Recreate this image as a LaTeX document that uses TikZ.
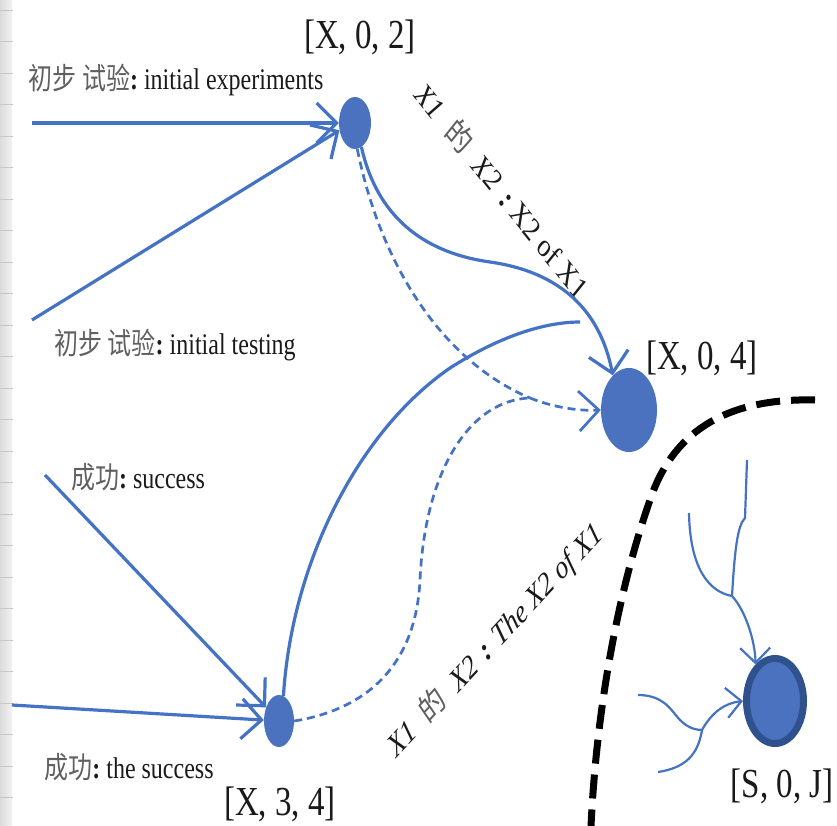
\documentclass[tikz,border=0pt]{standalone}
\usepackage{fontspec}
\setmainfont{Liberation Serif}
\newfontfamily\cjk{Noto Sans CJK SC}
\usepackage{graphicx}
\usetikzlibrary{arrows.meta,shapes.geometric}
\definecolor{nodeblue}{HTML}{4A72BE}
\definecolor{lineblue}{HTML}{4472C4}
\definecolor{ringblue}{HTML}{2F528F}
\definecolor{zhgray}{HTML}{606060}
\definecolor{txt}{HTML}{1A1A1A}
\newcommand\vs[1]{\scalebox{1}[1.25]{#1}}
\newcommand\zh[1]{{\cjk\color{zhgray}#1}}
\newcommand\cn{\textbf{:}}
\tikzset{
  dot/.style={ellipse, fill=nodeblue, draw=none, inner sep=0pt},
  conn/.style={draw=lineblue, line width=3.2pt},
  dashconn/.style={draw=lineblue, line width=2.7pt, dash pattern=on 8pt off 5pt},
  sconn/.style={draw=lineblue, line width=2.2pt},
  arr/.style={-{Straight Barb[length=20pt,width=40pt]}},
  sarr/.style={-{Straight Barb[length=15pt,width=30pt]}},
  lab/.style={inner sep=0pt, text=txt, font=\fontsize{24}{28}\selectfont},
  rotlab/.style={inner sep=0pt, text=txt, font=\fontsize{26}{30}\selectfont},
  biglab/.style={inner sep=0pt, text=txt, font=\fontsize{33}{36}\selectfont},
  border/.style={draw=black, line width=7pt, dash pattern=on 24pt off 11pt}
}
\begin{document}
\begin{tikzpicture}[x=1pt,y=-1pt]
\useasboundingbox (0,0) rectangle (837,826);
\fill[white] (0,0) rectangle (837,826);
% left strip
\fill[left color=black!14, right color=black!5] (0,0) rectangle (12,826);
\foreach \k in {0,...,26} \draw[black!22, line width=0.7pt] (0,10+31.5*\k) -- (13,10+31.5*\k);

% nodes
\node[dot, minimum width=32pt, minimum height=52pt] (n02) at (355,123) {};
\node[dot, minimum width=56pt, minimum height=84pt] (n04) at (629,410) {};
\node[dot, minimum width=30pt, minimum height=52pt] (n34) at (279,721) {};
\node[ellipse, fill=nodeblue, draw=ringblue, line width=7pt, minimum width=57pt, minimum height=85pt, inner sep=0pt] (nS) at (775,701) {};

% node labels
\node[biglab] (l02) at (360,37) {\vs{[X, 0, 2]}};
\node[biglab] (l04) at (702,358) {\vs{[X, 0, 4]}};
\node[biglab] (l34) at (280,804) {\vs{[X, 3, 4]}};
\node[biglab] (lS) at (782,786) {\vs{[S, 0, J]}};

% input labels
\node[lab] (t1) at (176,80) {\vs{\zh{初步 试验}\cn\ initial experiments}};
\node[lab] (t2) at (175,345) {\vs{\zh{初步 试验}\cn\ initial testing}};
\node[lab] (t3) at (138,477) {\vs{\zh{成功}\cn\ success}};
\node[lab] (t4) at (129,767) {\vs{\zh{成功}\cn\ the success}};

% rotated labels
\node[rotlab] (r1) at (503,190) {\vs{\rotatebox{-45}{\itshape X1\hspace{.5em}\zh{的}\hspace{.5em}X2\hspace{.4em}\cn\hspace{.2em}\upshape X2 of X1}}};
\node[rotlab] (r2) at (495,640) {\vs{\rotatebox{40.6}{\itshape X1\hspace{.5em}\zh{的}\hspace{.5em}X2\hspace{.4em}\cn\hspace{.3em}The X2 of X1}}};

% input arrows
\coordinate (a1) at (32,123);
\coordinate (a2) at (32,320);
\coordinate (a3) at (45,475);
\coordinate (a4) at (12,705);
\draw[conn, arr] (a1) -- (n02);
\draw[conn, arr] (a2) -- (n02.205);
\draw[conn, arr] (a3) -- (n34);
\draw[conn, arr] (a4) -- (n34);

% curves between nodes
\coordinate (m) at (530,398);
\coordinate (e5) at (580,322);
\draw[conn, arr] (n02.-75) .. controls (380,230) and (440,255) .. (490,262) .. controls (560,272) and (600,310) .. (n04.115);
\draw[dashconn] (n02.-85) .. controls (380,262) and (440,360) .. (m);
\draw[dashconn, arr] (m) .. controls (555,408) and (580,411) .. (n04.west);
\draw[conn] (n34.80) .. controls (292,560) and (360,430) .. (450,368) .. controls (500,336) and (545,322) .. (e5);
\draw[dashconn] (n34.east) .. controls (350,712) and (415,680) .. (420,580) .. controls (425,470) and (470,400) .. (m);

% boundary
\coordinate (b1) at (815,400);
\coordinate (b2) at (591,826);
\draw[border] (b1) .. controls (735,398) and (675,425) .. (650,500) .. controls (615,600) and (596,720) .. (b2);

% S node branches
\coordinate (j1) at (732,596);
\coordinate (j2) at (702,730);
\coordinate (s1) at (747,460);
\coordinate (s2) at (689,513);
\coordinate (s3) at (638,695);
\coordinate (s4) at (658,772);
\draw[sconn] (s1) -- (745,518) .. controls (738,525) and (735,545) .. (j1);
\draw[sconn] (s2) .. controls (690,570) and (710,592) .. (j1);
\draw[sconn, sarr] (j1) .. controls (745,610) and (755,640) .. (nS.118);
\draw[sconn] (s3) .. controls (665,695) and (672,712) .. (680,720) .. controls (688,728) and (696,730) .. (j2);
\draw[sconn] (s4) .. controls (685,768) and (698,755) .. (j2);
\draw[sconn, sarr] (j2) .. controls (712,712) and (725,703) .. (nS.west);
\end{tikzpicture}
\end{document}
